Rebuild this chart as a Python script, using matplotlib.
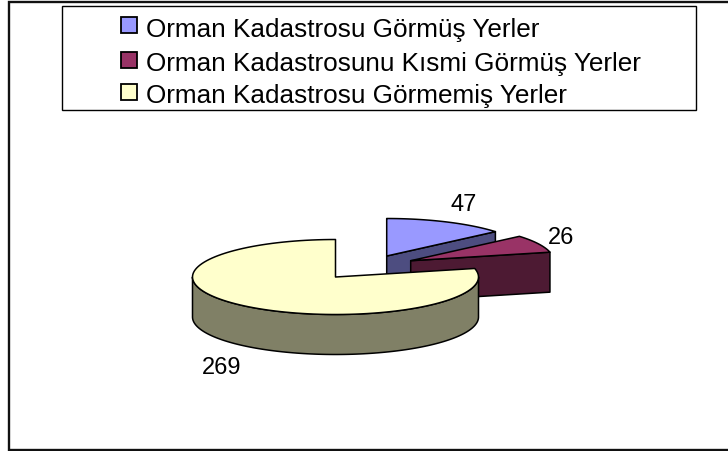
import numpy as np
import matplotlib
matplotlib.use("Agg")
import matplotlib.pyplot as plt
from matplotlib.patches import Rectangle, Polygon

labels = ["Orman Kadastrosu Görmüş Yerler",
          "Orman Kadastrosunu Kısmi Görmüş Yerler",
          "Orman Kadastrosu Görmemiş Yerler"]
values = [47, 26, 269]
value_labels = ["47", "26", "269"]
top_colors = ["#9999FF", "#993366", "#FFFFCC"]
side_colors = ["#4D4D80", "#4D1A33", "#808066"]

plt.rcParams["font.family"] = ["Liberation Sans", "DejaVu Sans"]
fig = plt.figure(figsize=(7.28, 4.52), dpi=100)
ax = fig.add_axes([0, 0, 1, 1])
ax.set_xlim(0, 728)
ax.set_ylim(452, 0)
ax.axis("off")

RX, RY, DEPTH = 143, 37.5, 40
apexes = [(386.7, 257), (410.7, 261.7), (335.5, 278)]
LW = 1.1

# chart frame runs past the right edge of the picture
ax.add_patch(Rectangle((9.3, 2.5), 740, 448, fc="white", ec="#111111", lw=1.7, zorder=0))

def rim(cx, cy, a0, a1, n=120):
    t = np.radians(np.linspace(a0, a1, n))
    return np.c_[cx + RX * np.cos(t), cy - RY * np.sin(t)]

fracs = np.array(values) / sum(values) * 360
angle = 90.0
z = 1
for v, frac, top, side, (cx, cy) in zip(values, fracs, top_colors, side_colors, apexes):
    a0, a1 = angle, angle - frac
    angle = a1
    arc = rim(cx, cy, a0, a1)
    if v != values[-1]:
        end = arc[-1]
        face = [(cx, cy), end, end + [0, DEPTH], (cx, cy + DEPTH)]
        ax.add_patch(Polygon(face, fc=side, ec="black", lw=LW, zorder=z, joinstyle="round"))
    else:
        outer = rim(cx, cy, 180, 360)
        wall = np.r_[outer, (outer + [0, DEPTH])[::-1]]
        ax.add_patch(Polygon(wall, fc=side, ec="black", lw=LW, zorder=z, joinstyle="round"))
    ax.add_patch(Polygon(np.r_[[(cx, cy)], arc], fc=top, ec="black", lw=LW, zorder=z + 1, joinstyle="round"))
    z += 2

label_pos = [(464, 211), (561, 244), (222, 374.5)]
for s, (x, y) in zip(value_labels, label_pos):
    ax.text(x, y, s, fontsize=17, ha="center", va="baseline", color="black", zorder=10)

ax.add_patch(Rectangle((61.7, 7.3), 634, 103.7, fc="white", ec="black", lw=1.0, zorder=11))
swatch_y = [26, 60.5, 92.5]
text_y = [36.5, 70.5, 102.5]
for s, c, ys, yt in zip(labels, top_colors, swatch_y, text_y):
    ax.add_patch(Rectangle((120.5, ys - 8), 16, 16, fc=c, ec="black", lw=1.3, zorder=12))
    ax.text(146, yt, s, fontsize=18.85, ha="left", va="baseline", color="black", zorder=12)

fig.savefig("out.png", dpi=100, facecolor="white")
